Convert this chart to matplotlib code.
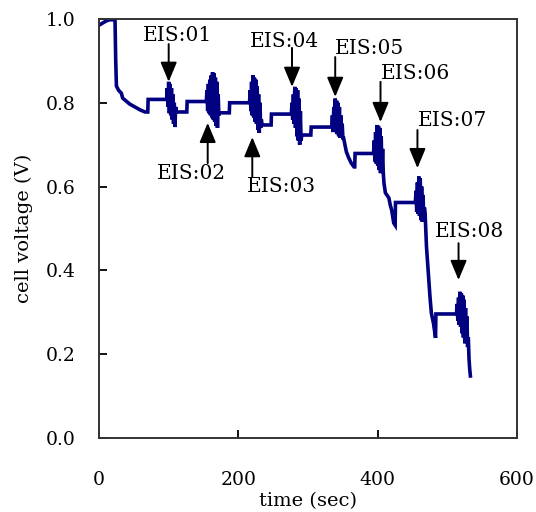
import matplotlib
matplotlib.use("Agg")
import matplotlib.pyplot as plt

# cell voltage during the run, with EIS sweeps (dense zigzag blocks)
time_s = [
    0, 5, 10, 15, 23, 24, 25, 28, 32, 34, 44, 59, 66, 70, 70.5, 97,
    # EIS:01
    98, 99, 100, 101, 102, 103, 104, 105, 106, 107, 108, 109, 110, 111,
    111.5, 126, 126.5, 154,
    # EIS:02
    155, 156, 157, 158, 159, 160, 161, 162, 163, 164, 165, 166, 167, 168, 169, 170, 171, 172, 173,
    173.5, 187, 187.5, 216,
    # EIS:03
    217, 218, 219, 220, 221, 222, 223, 224, 225, 226, 227, 228, 229, 230, 231, 232, 233,
    234, 247, 247.5, 276,
    # EIS:04
    277, 278, 279, 280, 281, 282, 283, 284, 285, 286, 287, 288, 289, 290, 291,
    291.5, 304, 304.5, 334,
    # EIS:05
    335, 336, 337, 338, 339, 340, 341, 342, 343, 344, 345, 346, 347, 348, 349, 350, 351,
    353, 355, 358, 362, 366, 367, 367.5, 394,
    # EIS:06
    395, 396, 397, 398, 399, 400, 401, 402, 403, 404, 405, 406, 407, 408, 409,
    411, 416, 418, 420, 423, 425, 425.5, 454,
    # EIS:07
    455, 456, 457, 458, 459, 460, 461, 462, 463, 464, 465, 466, 467, 468,
    470, 473, 475, 477, 480, 483, 483.5, 513,
    # EIS:08
    514, 515, 516, 517, 518, 519, 520, 521, 522, 523, 524, 525, 526, 527, 528, 529, 530,
    531, 532, 533,
]
voltage = [
    0.985, 0.99, 0.995, 0.998, 0.998, 0.90, 0.84, 0.83, 0.823, 0.811, 0.797, 0.783, 0.778, 0.778, 0.808, 0.808,
    0.835, 0.79, 0.85, 0.775, 0.845, 0.77, 0.835, 0.76, 0.82, 0.75, 0.80, 0.742, 0.79, 0.778,
    0.778, 0.778, 0.803, 0.803,
    0.83, 0.78, 0.845, 0.775, 0.855, 0.77, 0.865, 0.765, 0.873, 0.76, 0.87, 0.755, 0.86, 0.745, 0.85, 0.74, 0.82, 0.77, 0.776,
    0.776, 0.776, 0.800, 0.800,
    0.83, 0.78, 0.85, 0.77, 0.866, 0.765, 0.86, 0.755, 0.855, 0.75, 0.84, 0.735, 0.82, 0.728, 0.80, 0.74, 0.76,
    0.747, 0.747, 0.773, 0.773,
    0.80, 0.76, 0.82, 0.75, 0.838, 0.74, 0.835, 0.72, 0.83, 0.71, 0.81, 0.70, 0.78, 0.71, 0.723,
    0.723, 0.723, 0.742, 0.742,
    0.77, 0.73, 0.79, 0.735, 0.81, 0.73, 0.805, 0.725, 0.80, 0.72, 0.79, 0.716, 0.77, 0.72, 0.75, 0.716, 0.716,
    0.70, 0.683, 0.67, 0.656, 0.647, 0.647, 0.679, 0.679,
    0.71, 0.66, 0.73, 0.655, 0.747, 0.65, 0.745, 0.64, 0.74, 0.632, 0.72, 0.64, 0.69, 0.632, 0.608,
    0.585, 0.573, 0.556, 0.544, 0.513, 0.508, 0.562, 0.562,
    0.59, 0.54, 0.61, 0.535, 0.624, 0.53, 0.62, 0.52, 0.60, 0.516, 0.58, 0.53, 0.55, 0.537,
    0.456, 0.384, 0.337, 0.298, 0.274, 0.239, 0.296, 0.296,
    0.32, 0.28, 0.335, 0.27, 0.349, 0.265, 0.345, 0.25, 0.34, 0.24, 0.33, 0.226, 0.31, 0.23, 0.29, 0.217, 0.24,
    0.19, 0.165, 0.148,
]

# EIS markers: label, text centre (t, V), arrow tail (t, V), arrow tip (t, V)
eis_labels = ["EIS:01", "EIS:02", "EIS:03", "EIS:04", "EIS:05", "EIS:06", "EIS:07", "EIS:08"]
eis_text_t = [112, 133, 262, 266, 388, 454, 507, 531]
eis_text_v = [0.961, 0.631, 0.599, 0.947, 0.930, 0.871, 0.757, 0.492]
eis_arrow_t = [100, 156, 220, 277, 339, 404, 457, 516]
eis_tail_v = [0.940, 0.656, 0.623, 0.931, 0.909, 0.850, 0.735, 0.465]
eis_tip_v = [0.850, 0.752, 0.718, 0.838, 0.814, 0.754, 0.644, 0.377]

serif = "DejaVu Serif"

fig = plt.figure(figsize=(5.36, 5.12), dpi=100)
ax = fig.add_axes([0.1847, 0.1445, 0.7800, 0.8185])

ax.plot(time_s, voltage, color="#000080", lw=2.6, solid_joinstyle="miter")

for lab, tx, tv, at, tail, tip in zip(eis_labels, eis_text_t, eis_text_v,
                                      eis_arrow_t, eis_tail_v, eis_tip_v):
    ax.annotate("", xy=(at, tip), xytext=(at, tail),
                arrowprops=dict(arrowstyle="-|>,head_length=0.6,head_width=0.25",
                                color="black", lw=1.4, mutation_scale=20,
                                shrinkA=0, shrinkB=0))
    ax.text(tx, tv, lab, ha="center", va="center", fontsize=14.5, family=serif)

ax.set_xlim(0, 600)
ax.set_ylim(0, 1.0)
ax.set_xticks([0, 200, 400, 600])
ax.set_yticks([0.0, 0.2, 0.4, 0.6, 0.8, 1.0])
ax.set_yticklabels(["0.0", "0.2", "0.4", "0.6", "0.8", "1.0"])
ax.tick_params(direction="in", length=5.5, width=1.3, labelsize=13.5, pad=24, axis="x")
ax.tick_params(direction="in", length=5.5, width=1.3, labelsize=13.5, pad=17, axis="y")
for lbl in ax.get_xticklabels() + ax.get_yticklabels():
    lbl.set_family(serif)

for sp in ax.spines.values():
    sp.set_linewidth(1.4)
    sp.set_color("#333333")

ax.set_xlabel("time (sec)", fontsize=14, family=serif, labelpad=2)
ax.set_ylabel("cell voltage (V)", fontsize=14, family=serif, labelpad=9)

fig.savefig("out.png", dpi=100)
